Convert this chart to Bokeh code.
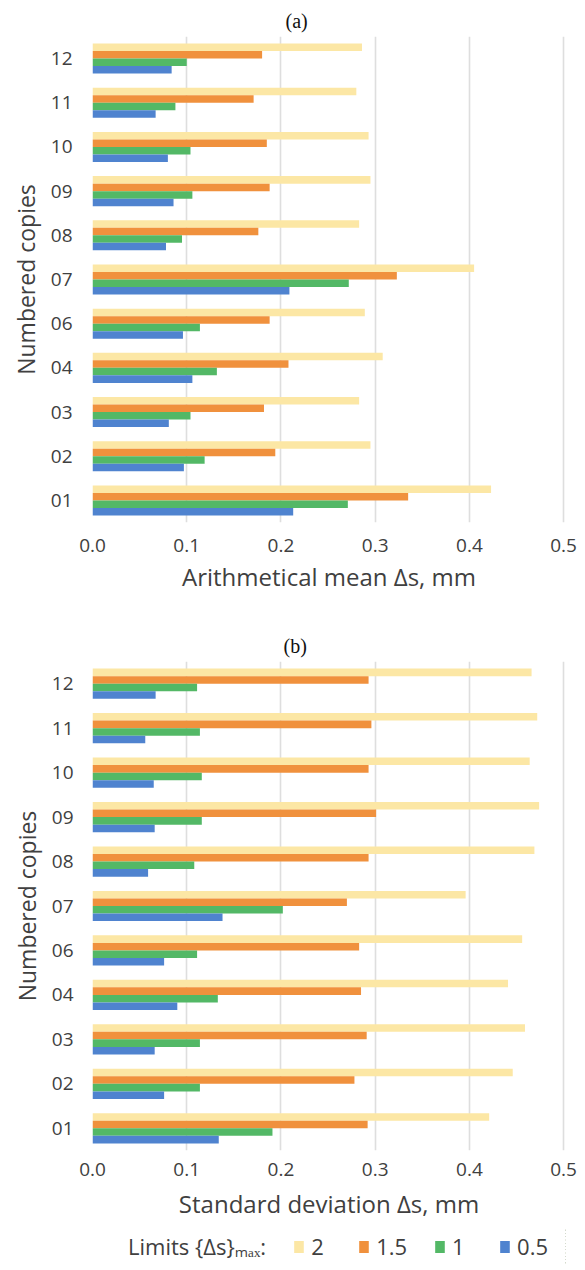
from bokeh.plotting import figure
from bokeh.models import (FactorRange, Range1d, ColumnDataSource, Legend, LegendItem,
                          FixedTicker, NumeralTickFormatter, Title)
from bokeh.transform import dodge
from bokeh.layouts import column
from bokeh.embed import file_html
from bokeh.resources import INLINE

# ---------------- data ----------------
copies = ["01", "02", "03", "04", "06", "07", "08", "09", "10", "11", "12"]
limits = ["2", "1.5", "1", "0.5"]

# (a) arithmetical mean Δs, mm
mean_2   = [0.423, 0.295, 0.283, 0.308, 0.289, 0.405, 0.283, 0.295, 0.293, 0.280, 0.286]
mean_15  = [0.335, 0.194, 0.182, 0.208, 0.188, 0.323, 0.176, 0.188, 0.185, 0.171, 0.180]
mean_1   = [0.271, 0.119, 0.104, 0.132, 0.114, 0.272, 0.095, 0.106, 0.104, 0.088, 0.100]
mean_05  = [0.213, 0.097, 0.081, 0.106, 0.096, 0.209, 0.078, 0.086, 0.080, 0.067, 0.084]

# (b) standard deviation Δs, mm
std_2    = [0.421, 0.446, 0.459, 0.441, 0.456, 0.396, 0.469, 0.474, 0.464, 0.472, 0.466]
std_15   = [0.292, 0.278, 0.291, 0.285, 0.283, 0.270, 0.293, 0.301, 0.293, 0.296, 0.293]
std_1    = [0.191, 0.114, 0.114, 0.133, 0.111, 0.202, 0.108, 0.116, 0.116, 0.114, 0.111]
std_05   = [0.134, 0.076, 0.066, 0.090, 0.076, 0.138, 0.059, 0.066, 0.065, 0.056, 0.067]

x_ticks = [0.0, 0.1, 0.2, 0.3, 0.4, 0.5]
legend_title = "Limits {Δs}ₘₐₓ:"

colors = {"2": "#FCE7A5", "1.5": "#F0913D", "1": "#53B866", "0.5": "#4F83CF"}
offsets = {"2": 0.255, "1.5": 0.085, "1": -0.085, "0.5": -0.255}
BAR_H = 0.17

SANS = "Open Sans"
SERIF = "Liberation Serif"
TXT = "#404040"

BL, FW, BR = 92, 473, 15   # shared horizontal layout (frames are aligned in the column)


def make_chart(tag, xlabel, vals, fh, bt, bb, title_offset, y_std, x_std, x_lab_std):
    src = ColumnDataSource(dict(cat=copies, v2=vals[0], v15=vals[1], v1=vals[2], v05=vals[3]))
    p = figure(frame_width=FW, frame_height=fh, output_backend="svg", toolbar_location=None,
               y_range=FactorRange(factors=copies, range_padding=0),
               x_range=Range1d(0, 0.502),
               min_border_left=BL, min_border_right=BR, min_border_top=bt, min_border_bottom=bb)
    p.title = Title(text=tag, align="left", offset=title_offset, text_font=SERIF,
                    text_font_size="20px", text_font_style="normal", text_color="#111111",
                    standoff=10)
    p.outline_line_color = None
    p.background_fill_color = "white"
    p.border_fill_color = "white"

    for key, col in zip(limits, ["v2", "v15", "v1", "v05"]):
        p.hbar(y=dodge("cat", offsets[key], range=p.y_range), left=0, right=col,
               height=BAR_H, source=src, fill_color=colors[key], line_color=None)

    p.ygrid.grid_line_color = None
    p.xgrid.grid_line_color = "#DEDEDE"
    p.xgrid.grid_line_width = 1.6
    p.xgrid.ticker = FixedTicker(ticks=x_ticks)

    p.xaxis.ticker = FixedTicker(ticks=x_ticks)
    p.xaxis.formatter = NumeralTickFormatter(format="0.0")
    for ax in (p.xaxis[0], p.yaxis[0]):
        ax.axis_line_color = None
        ax.major_tick_line_color = None
        ax.minor_tick_line_color = None
        ax.major_tick_out = 0
        ax.major_tick_in = 0
        ax.minor_tick_out = 0
        ax.minor_tick_in = 0
        ax.major_label_text_font = SANS
        ax.major_label_text_font_size = "19px"
        ax.major_label_text_color = TXT
        ax.axis_label_text_font = SANS
        ax.axis_label_text_font_size = "23px"
        ax.axis_label_text_font_style = "normal"
        ax.axis_label_text_color = TXT
    p.xaxis.axis_label = xlabel
    p.xaxis.axis_label_text_font_size = "24px"
    p.xaxis.major_label_standoff = x_std
    p.xaxis.axis_label_standoff = x_lab_std
    p.yaxis.axis_label = "Numbered copies"
    p.yaxis.major_label_standoff = y_std
    p.yaxis.axis_label_standoff = 6
    return p, src


pa, _ = make_chart("(a)", "Arithmetical mean Δs, mm", [mean_2, mean_15, mean_1, mean_05],
                   486, 36, 90, 193, 20, 16, 5)
pb, src_b = make_chart("(b)", "Standard deviation Δs, mm", [std_2, std_15, std_1, std_05],
                       489, 49, 78, 191, 19, 12, 8)

# ---------------- legend strip ----------------
# the series are drawn again here, outside the visible x range, only to give the legend swatches
pl = figure(frame_width=FW, height=36, output_backend="svg", toolbar_location=None,
            x_range=Range1d(-2, -1), y_range=FactorRange(factors=copies),
            min_border_left=BL, min_border_right=BR, min_border_top=0, min_border_bottom=0)
pl.axis.visible = False
pl.grid.grid_line_color = None
pl.outline_line_color = None

dummy = pl.hbar(y="cat", left=0, right="v2", height=BAR_H, source=src_b,
                fill_alpha=0, line_alpha=0)
items = [LegendItem(label=legend_title, renderers=[dummy])]
for key, col in zip(limits, ["v2", "v15", "v1", "v05"]):
    r = pl.hbar(y="cat", left=0, right=col, height=BAR_H, source=src_b,
                fill_color=colors[key], line_color=None)
    items.append(LegendItem(label=key, renderers=[r]))

legend = Legend(items=items, orientation="horizontal", location="center",
                label_text_font=SANS, label_text_font_size="22px", label_text_color=TXT,
                glyph_width=12, glyph_height=15, label_standoff=7, spacing=26,
                border_line_color=None, background_fill_alpha=0, margin=0, padding=2)
pl.add_layout(legend)

layout = column(pa, pb, pl, spacing=0)
open("out.html", "w").write(file_html(layout, INLINE))
